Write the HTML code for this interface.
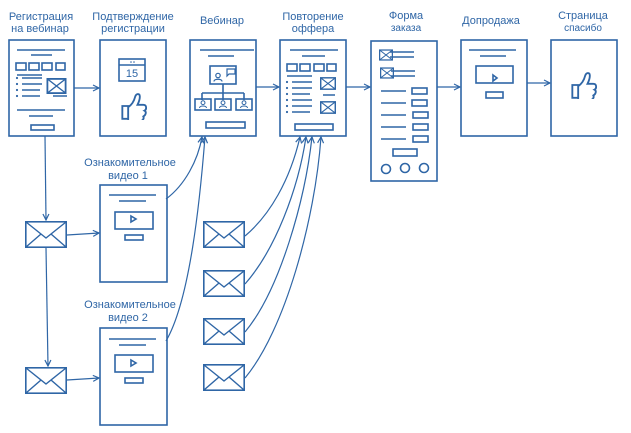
<!DOCTYPE html>
<html><head><meta charset="utf-8"><style>
html,body{margin:0;padding:0;background:#fff}
svg{display:block}
text{font-family:"Liberation Sans","DejaVu Sans",sans-serif;font-size:11px;fill:#2f66a6;text-anchor:middle}
</style></head><body>
<svg width="631" height="433" viewBox="0 0 631 433" xmlns="http://www.w3.org/2000/svg">
<defs>
<marker id="a" markerWidth="8" markerHeight="8" refX="7" refY="4" orient="auto" markerUnits="userSpaceOnUse">
<path d="M1,1 L7,4 L1,7" fill="none" stroke="#2f66a6" stroke-width="1.2"/></marker>
<symbol id="env" viewBox="0 0 42 27"><rect x="0.8" y="0.8" width="40.4" height="25.4" fill="none" stroke="#2f66a6" stroke-width="1.6"/><path d="M1,1 L21,17 L41,1 M1,26 L16,13 M41,26 L26,13" fill="none" stroke="#2f66a6" stroke-width="1.4"/></symbol>
<symbol id="xb" viewBox="0 0 20 16"><rect x="0.9" y="0.9" width="18.2" height="14.2" fill="none" stroke="#2f66a6" stroke-width="1.8"/><path d="M1,1 L19,15 M19,1 L1,15" stroke="#2f66a6" stroke-width="1.4"/></symbol>
<symbol id="thumb" viewBox="0 0 22 24"><path d="M1,12 h5 v11 h-5z M6,13 c3,-2 5,-5 6,-9 c1,-3 4,-3 4,0 c0,3 -1,5 -2,7 h5 c3,0 3,4 1,5 c2,1 1,4 -1,5 c1,2 -1,4 -3,4 h-10z" fill="none" stroke="#2f66a6" stroke-width="1.6"/></symbol>
<symbol id="person" viewBox="0 0 16 11"><circle cx="8" cy="4" r="2.2" fill="none" stroke="#2f66a6" stroke-width="1.2"/><path d="M4,10 c0,-3 8,-3 8,0" fill="none" stroke="#2f66a6" stroke-width="1.2"/></symbol>
</defs>
<g fill="none" stroke="#2f66a6" stroke-width="1.6">
<rect x="9" y="40" width="65" height="96"/>
<rect x="100" y="40" width="66" height="96"/>
<rect x="190" y="40" width="66" height="96"/>
<rect x="280" y="40" width="66" height="96"/>
<rect x="371" y="41" width="66" height="140"/>
<rect x="461" y="40" width="66" height="96"/>
<rect x="551" y="40" width="66" height="96"/>
<rect x="100" y="185" width="67" height="97"/>
<rect x="100" y="328" width="67" height="97"/>
<path d="M17,50 H65 M31,55 H52 M17,75 H42 M22,78 H42 M22,84 H42 M22,90 H40 M22,96 H40 M53,96 H67 M17,110 H65 M29,116 H53"/>
<rect x="16" y="63" width="10" height="7"/><rect x="29" y="63" width="10" height="7"/><rect x="42" y="63" width="10" height="7"/><rect x="56" y="63" width="9" height="7"/>
<rect x="31" y="125" width="23" height="5"/>
<rect x="119" y="59" width="26" height="22"/><path d="M119,65 H145"/>
<path d="M200,50 H254 M208,56 H234 M223,84 V93 M202,93 H244 M202,93 V100 M223,93 V100 M244,93 V100"/>
<rect x="210" y="66" width="26" height="18"/>
<rect x="195" y="99" width="16" height="11"/><rect x="215" y="99" width="16" height="11"/><rect x="236" y="99" width="16" height="11"/>
<rect x="206" y="122" width="39" height="6"/>
<path d="M290,50 H338 M302,56 H325 M287,76 H312 M292,82 H312 M292,88 H312 M292,94 H310 M292,100 H312 M292,106 H312 M292,112 H310 M323,95 H335"/>
<rect x="287" y="64" width="10" height="7"/><rect x="300" y="64" width="10" height="7"/><rect x="314" y="64" width="10" height="7"/><rect x="327" y="64" width="9" height="7"/>
<rect x="295" y="124" width="38" height="6"/>
<path d="M390,52 H414 M390,57 H414 M391,71 H415 M391,76 H415 M381,91 H406 M381,103 H406 M381,115 H406 M381,127 H406 M381,139 H406"/>
<rect x="412" y="88" width="15" height="6"/><rect x="412" y="100" width="15" height="6"/><rect x="413" y="112" width="15" height="6"/><rect x="413" y="124" width="15" height="6"/><rect x="413" y="136" width="15" height="6"/>
<rect x="393" y="149" width="24" height="7"/>
<circle cx="386" cy="169" r="4.5"/><circle cx="405" cy="168" r="4.5"/><circle cx="424" cy="168" r="4.5"/>
<path d="M469,50 H516 M480,56 H506 M493,75 L497,78 L493,81Z"/>
<rect x="476" y="66" width="37" height="17"/><rect x="486" y="92" width="17" height="6"/>
<path d="M109,195 H156 M119,201 H146 M131,216 L136,219 L131,222Z"/>
<rect x="115" y="212" width="38" height="17"/><rect x="125" y="235" width="18" height="5"/>
<path d="M109,339 H156 M119,345 H146 M131,360 L136,363 L131,366Z"/>
<rect x="115" y="355" width="38" height="17"/><rect x="125" y="378" width="18" height="5"/>
</g>
<g fill="#2f66a6">
<circle cx="17" cy="78" r="1.1"/><circle cx="17" cy="84" r="1.1"/><circle cx="17" cy="90" r="1.1"/><circle cx="17" cy="96" r="1.1"/>
<circle cx="287" cy="82" r="1.1"/><circle cx="287" cy="88" r="1.1"/><circle cx="287" cy="94" r="1.1"/><circle cx="287" cy="100" r="1.1"/><circle cx="287" cy="106" r="1.1"/><circle cx="287" cy="112" r="1.1"/>
<circle cx="131" cy="62" r="0.8"/><circle cx="134" cy="62" r="0.8"/>
</g>
<use href="#person" x="210" y="70" width="16" height="14"/>
<path d="M227,69 h8 v5 h-6 l-2,2z" fill="none" stroke="#2f66a6" stroke-width="1.2"/>
<use href="#person" x="196" y="99" width="14" height="10"/>
<use href="#person" x="216" y="99" width="14" height="10"/>
<use href="#person" x="237" y="99" width="14" height="10"/>
<use href="#xb" x="46" y="78" width="21" height="16"/>
<use href="#xb" x="320" y="76" width="16" height="15"/>
<use href="#xb" x="320" y="100" width="16" height="15"/>
<use href="#xb" x="379" y="48" width="14" height="14"/>
<use href="#xb" x="380" y="66" width="14" height="14"/>
<use href="#thumb" x="121" y="92" width="26" height="28"/>
<use href="#thumb" x="571" y="71" width="26" height="28"/>
<use href="#env" x="25" y="221" width="42" height="27"/>
<use href="#env" x="25" y="367" width="42" height="27"/>
<use href="#env" x="203" y="221" width="42" height="27"/>
<use href="#env" x="203" y="270" width="42" height="27"/>
<use href="#env" x="203" y="318" width="42" height="27"/>
<use href="#env" x="203" y="364" width="42" height="27"/>
<g fill="none" stroke="#2f66a6" stroke-width="1.2" marker-end="url(#a)">
<path d="M74,88 L99,88"/><path d="M256,87 L279,87"/><path d="M346,87 L370,87"/><path d="M437,87 L460,87"/><path d="M527,83 L550,83"/>
<path d="M45,136 L46,220"/><path d="M46,248 L48,366"/>
<path d="M67,235 L99,233"/><path d="M67,380 L99,378"/>
<path d="M166,199 C185,185 198,160 202,137"/>
<path d="M166,341 C190,300 200,200 205,137"/>
<path d="M245,236 C270,215 290,180 300,137"/>
<path d="M245,284 C275,250 298,190 306,137"/>
<path d="M245,332 C280,290 305,200 312,137"/>
<path d="M245,378 C285,330 315,220 321,137"/>
</g>
<text x="41" y="20">Регистрация</text><text x="40" y="32">на вебинар</text>
<text x="133" y="20">Подтверждение</text><text x="133" y="32">регистрации</text>
<text x="222" y="24">Вебинар</text>
<text x="313" y="20">Повторение</text><text x="313" y="32">оффера</text>
<text x="406" y="19">Форма</text><text x="406" y="31" style="font-size:10px">заказа</text>
<text x="491" y="24">Допродажа</text>
<text x="583" y="19">Страница</text><text x="583" y="31" style="font-size:10px">спасибо</text>
<text x="130" y="166">Ознакомительное</text><text x="128" y="179">видео 1</text>
<text x="130" y="308">Ознакомительное</text><text x="128" y="321">видео 2</text>
<text x="132" y="77" style="font-size:11px">15</text>
</svg>
</body></html>
